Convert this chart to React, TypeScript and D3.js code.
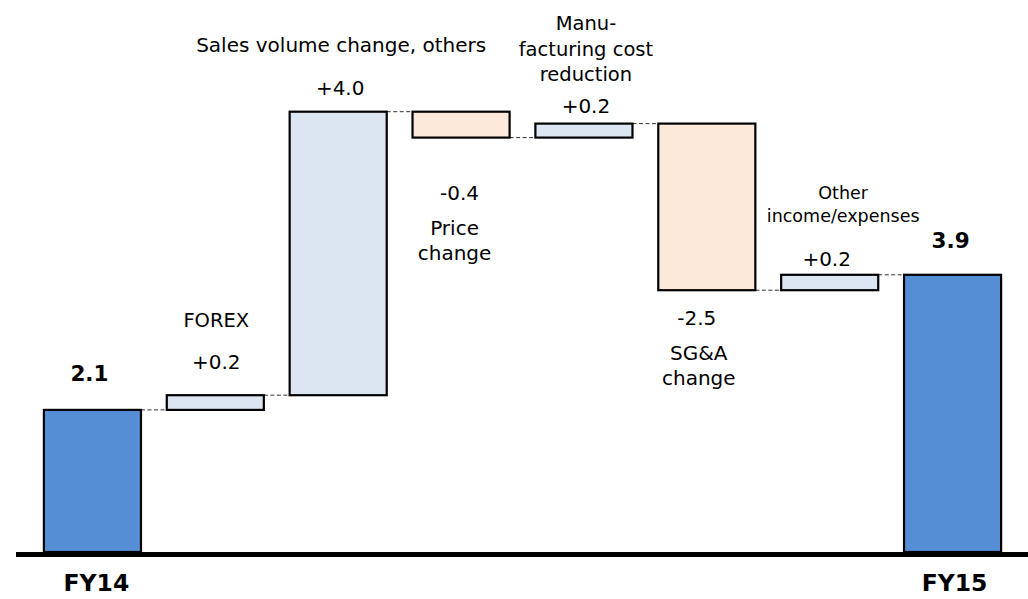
import React from "react";
import * as d3 from "d3";

// ---- data ----
const categories = [
  "FY14",
  "FOREX",
  "Sales volume change, others",
  "Price change",
  "Manufacturing cost reduction",
  "SG&A change",
  "Other income/expenses",
  "FY15",
];
const startValue = 2.03;
const deltas = [0.21, 4.05, -0.37, 0.2, -2.38, 0.22];
const valueLabels = ["2.1", "+0.2", "+4.0", "-0.4", "+0.2", "-2.5", "+0.2", "3.9"];
const nameLines: string[][] = [
  [],
  ["FOREX"],
  ["Sales volume change, others"],
  ["Price", "change"],
  ["Manu-", "facturing cost", "reduction"],
  ["SG&A", "change"],
  ["Other", "income/expenses"],
  [],
];
const axisLabels = ["FY14", "", "", "", "", "", "", "FY15"];

const W = 1028;
const H = 599;
const FONT = "'DejaVu Sans', Verdana, sans-serif";

type Bar = { name: string; y0: number; y1: number; kind: "total" | "up" | "down" };

function buildBars(): Bar[] {
  const bars: Bar[] = [];
  bars.push({ name: categories[0], y0: 0, y1: startValue, kind: "total" });
  let cum = startValue;
  deltas.forEach((d, i) => {
    const next = cum + d;
    bars.push({ name: categories[i + 1], y0: cum, y1: next, kind: d >= 0 ? "up" : "down" });
    cum = next;
  });
  bars.push({ name: categories[categories.length - 1], y0: 0, y1: cum, kind: "total" });
  return bars;
}

// label layout (offsets relative to bar top / bottom, in px)
type LabelSpec = {
  anchor: "top" | "bottom";
  dx: number;
  dy: number;
  size: number;
  weight?: string;
};
const valueLayout: LabelSpec[] = [
  { anchor: "top", dx: -3, dy: -28.7, size: 21.5, weight: "bold" },
  { anchor: "top", dx: 1, dy: -26.7, size: 20 },
  { anchor: "top", dx: 2, dy: -16.7, size: 20 },
  { anchor: "bottom", dx: -1.5, dy: 62.7, size: 20 },
  { anchor: "top", dx: 2, dy: -10.3, size: 20 },
  { anchor: "bottom", dx: -10, dy: 35, size: 20 },
  { anchor: "top", dx: -3, dy: -9.3, size: 20 },
  { anchor: "top", dx: -2, dy: -27, size: 21.5, weight: "bold" },
];
const nameLayout: (LabelSpec & { lineGap: number })[] = [
  { anchor: "top", dx: 0, dy: 0, size: 20, lineGap: 0 },
  { anchor: "top", dx: 1, dy: -68.3, size: 19.5, lineGap: 0 },
  { anchor: "top", dx: 3, dy: -60, size: 20, lineGap: 0 },
  { anchor: "bottom", dx: -6.5, dy: 97.7, size: 20, lineGap: 25 },
  { anchor: "top", dx: 2, dy: -93.3, size: 19.5, lineGap: 25.5 },
  { anchor: "bottom", dx: -8, dy: 70, size: 20, lineGap: 25 },
  { anchor: "top", dx: 13.5, dy: -76.3, size: 17.5, lineGap: 23.7 },
  { anchor: "top", dx: 0, dy: 0, size: 20, lineGap: 0 },
];

const fills = { total: "#558ED5", up: "#DCE6F2", down: "#FDE9D9" };

export default function App() {
  const bars = buildBars();
  const x = d3.scaleBand<string>().domain(categories).range([31, 1014]).paddingInner(0.21).paddingOuter(0.105);
  const y = d3.scaleLinear().domain([0, 7]).range([552, 62]);
  const bw = x.bandwidth();

  const topOf = (b: Bar) => y(Math.max(b.y0, b.y1));
  const bottomOf = (b: Bar) => y(Math.min(b.y0, b.y1));
  const anchorY = (b: Bar, a: "top" | "bottom") => (a === "top" ? topOf(b) : bottomOf(b));

  return (
    <svg
      width={W}
      height={H}
      style={{ position: "absolute", left: 0, top: 0, background: "#fff" }}
      fontFamily={FONT}
    >
      {/* connectors */}
      {bars.slice(0, -1).map((b, i) => {
        const nb = bars[i + 1];
        const level = y(b.y1);
        return (
          <line
            key={"c" + i}
            x1={(x(b.name) as number) + bw}
            x2={x(nb.name) as number}
            y1={level}
            y2={level}
            stroke="#333"
            strokeWidth={1}
            strokeDasharray="4,2.5"
          />
        );
      })}
      {/* bars */}
      {bars.map((b, i) => (
        <rect
          key={"b" + i}
          x={x(b.name) as number}
          y={topOf(b)}
          width={bw}
          height={bottomOf(b) - topOf(b)}
          fill={fills[b.kind]}
          stroke="#000"
          strokeWidth={2.2}
        />
      ))}
      {/* baseline */}
      <line x1={16} x2={W} y1={y(0) + 2.5} y2={y(0) + 2.5} stroke="#000" strokeWidth={5} />
      {/* value labels */}
      {bars.map((b, i) => {
        const s = valueLayout[i];
        return (
          <text
            key={"v" + i}
            x={(x(b.name) as number) + bw / 2 + s.dx}
            y={anchorY(b, s.anchor) + s.dy}
            textAnchor="middle"
            fontSize={s.size}
            fontWeight={s.weight || "normal"}
            fill="#000"
          >
            {valueLabels[i]}
          </text>
        );
      })}
      {/* category name labels */}
      {bars.map((b, i) => {
        const s = nameLayout[i];
        return nameLines[i].map((line, j) => (
          <text
            key={"n" + i + "-" + j}
            x={(x(b.name) as number) + bw / 2 + s.dx}
            y={anchorY(b, s.anchor) + s.dy + j * s.lineGap}
            textAnchor="middle"
            fontSize={s.size}
            fill="#000"
          >
            {line}
          </text>
        ));
      })}
      {/* axis labels */}
      {bars.map((b, i) =>
        axisLabels[i] ? (
          <text
            key={"a" + i}
            x={(x(b.name) as number) + bw / 2 + (i === 0 ? 4 : 2)}
            y={y(0) + 39}
            textAnchor="middle"
            fontSize={23.5}
            fontWeight="bold"
            fill="#000"
          >
            {axisLabels[i]}
          </text>
        ) : null
      )}
    </svg>
  );
}
